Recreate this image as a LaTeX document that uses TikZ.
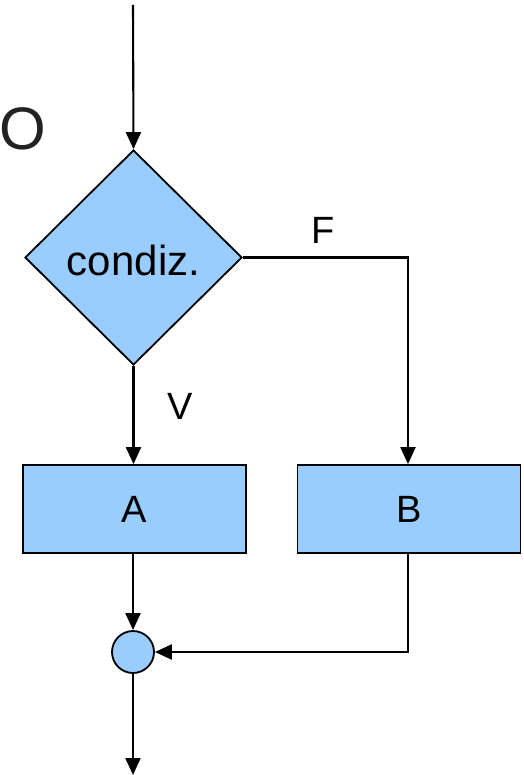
\documentclass[tikz,border=0pt]{standalone}
\usepackage{fontspec}
\setmainfont{Liberation Sans}
\usetikzlibrary{shapes.geometric,arrows.meta}
\definecolor{boxblue}{RGB}{153,204,255}
\definecolor{labelgray}{RGB}{34,34,34}
\begin{document}
\begin{tikzpicture}[x=1pt,y=-1pt,
  flow/.style={line width=2.1pt,-{Triangle[length=17pt,width=15pt]}},
  decision/.style={diamond,draw,line width=1.8pt,fill=boxblue,inner sep=0pt,
    minimum width=217pt,minimum height=215pt,aspect=1},
  block/.style={rectangle,draw,line width=1.8pt,fill=boxblue,
    minimum width=223pt,minimum height=88pt,font=\fontsize{38}{44}\selectfont},
  junction/.style={circle,draw,line width=1.8pt,fill=boxblue,minimum size=42pt,inner sep=0pt},
  lbl/.style={font=\fontsize{38}{44}\selectfont}]
\useasboundingbox (0,0) rectangle (523,775);

\node[font=\fontsize{60}{68}\selectfont,text=labelgray] (o) at (23,129) {O};

\coordinate (start) at (133,5);
\node[decision] (c) at (133.5,257.5) {};
\node[font=\fontsize{42}{48}\selectfont] (ct) at (133.5,260) {condiz.};
\node[block] (a) at (134.5,509) {A};
\node[block] (b) at (409,509) {B};
\node[junction] (j) at (133,652) {};
\coordinate (stop) at (133,775);
\coordinate (bend) at (408,257.5);
\coordinate (ret) at (408,652);

\node[lbl] (f) at (323,230) {F};
\node[lbl] (v) at (180,406) {V};

\draw[flow] (start) -- (c.north);
\draw[flow] (c.south) -- (c.south |- a.north);
\draw[flow] (c.east) -- (bend) -- (bend |- b.north);
\draw[flow] (a.south -| j) -- (j.north);
\draw[flow] (b.south -| ret) -- (ret) -- (j.east);
\draw[flow] (j.south) -- (stop);
\end{tikzpicture}
\end{document}
